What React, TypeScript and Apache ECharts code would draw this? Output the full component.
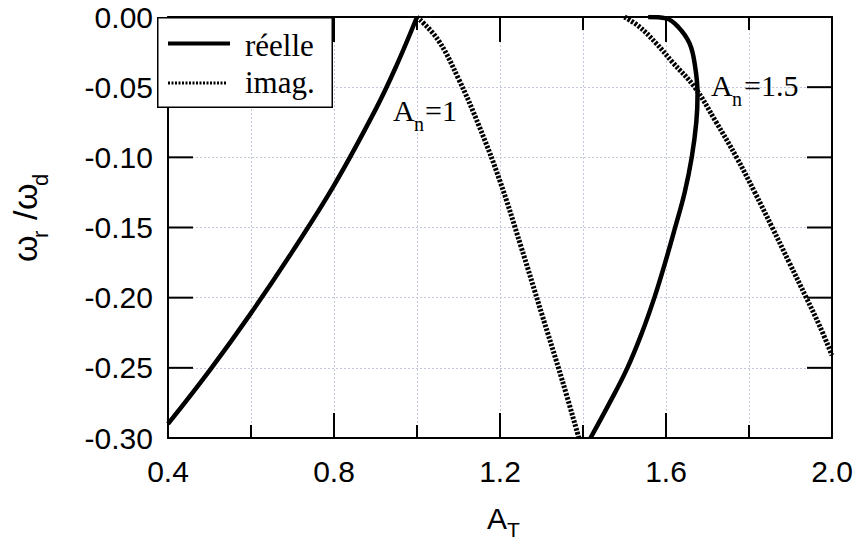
import React, { useEffect, useRef } from 'react';
import * as echarts from 'echarts';

// A_T values vs omega_r/omega_d
const reelleAn1: number[][] = [
  [0.4, -0.29], [0.5, -0.252], [0.6, -0.211], [0.7, -0.167], [0.8, -0.12],
  [0.9, -0.066], [0.95, -0.035], [1.0, 0.0],
];
const imagAn1: number[][] = [
  [1.0, 0.0], [1.05, -0.016], [1.1, -0.044], [1.15, -0.078], [1.2, -0.117],
  [1.25, -0.163], [1.3, -0.211], [1.35, -0.259], [1.39, -0.3],
];
const reelleAn15: number[][] = [
  [1.557, 0.0], [1.6, -0.001], [1.629, -0.007], [1.657, -0.019], [1.67, -0.035],
  [1.676, -0.055], [1.673, -0.075], [1.662, -0.1], [1.645, -0.125], [1.622, -0.15],
  [1.598, -0.175], [1.572, -0.2], [1.542, -0.225], [1.507, -0.25], [1.464, -0.275],
  [1.418, -0.3],
];
const imagAn15: number[][] = [
  [1.5, 0.0], [1.536, -0.007], [1.577, -0.019], [1.615, -0.032], [1.669, -0.05],
  [1.721, -0.075], [1.77, -0.1], [1.814, -0.125], [1.856, -0.15], [1.897, -0.175],
  [1.938, -0.2], [1.97, -0.22], [2.0, -0.241],
];
const legendNames = ['réelle', 'imag.'];
const xMajorTicks = [0.4, 0.8, 1.2, 1.6, 2.0];
const xMinorTicks = [0.6, 1.0, 1.4, 1.8];
const yTicks = [-0.3, -0.25, -0.2, -0.15, -0.1, -0.05, 0];
const X_MIN = 0.4, X_MAX = 2.0, X_STEP = 0.4;
const Y_MIN = -0.3, Y_MAX = 0, Y_STEP = 0.05;

const sans = '"Liberation Sans", Arial, Helvetica, sans-serif';
const serif = '"Liberation Serif", "Times New Roman", Times, serif';

const gridLine = () => ({ show: true, lineStyle: { color: '#c3c7da', width: 1, type: [2, 2] } });
const axisLine = () => ({ show: true, onZero: false, lineStyle: { color: '#000000', width: 2 } });

const txt = (text: string, x: number, y: number, font: string) => ({
  type: 'text', x, y, z: 100,
  style: { text, font, fill: '#000', textAlign: 'left', textVerticalAlign: 'middle', align: 'left', verticalAlign: 'middle' },
});

const seg = (x1: number, y1: number, x2: number, y2: number) => ({
  type: 'line', z: 80, silent: true,
  shape: { x1, y1, x2, y2 },
  style: { stroke: '#000', lineWidth: 2 },
});

const boxStyle: any = { position: 'fixed', left: 0, top: 0, width: 857, height: 540 };

export default function App() {
  const ref = useRef<HTMLDivElement>(null);
  const overlayRef = useRef<HTMLDivElement>(null);
  useEffect(() => {
    if (!ref.current || !overlayRef.current) return;
    const chart = echarts.init(ref.current, null, { renderer: 'svg' });
    const overlay = echarts.init(overlayRef.current, null, { renderer: 'svg' });
    const solid = { color: '#000', width: 4.5 };
    const dotted = { color: '#000', width: 5, type: [2.5, 1.5] };

    chart.setOption({
      animation: false,
      backgroundColor: '#fff',
      grid: { left: 168, right: 25, top: 17, bottom: 102, containLabel: false },
      xAxis: [
        {
          type: 'value', min: X_MIN, max: X_MAX, interval: X_STEP, position: 'bottom',
          axisLine: axisLine(), axisTick: { show: false }, minorTick: { show: false, splitNumber: 2 },
          axisLabel: { show: true, margin: 18, fontSize: 30, fontFamily: sans, color: '#000', formatter: (v: number) => v.toFixed(1) },
          splitLine: gridLine(), minorSplitLine: gridLine(),
        },
        {
          type: 'value', min: X_MIN, max: X_MAX, interval: X_STEP, position: 'top',
          axisLine: axisLine(), axisTick: { show: false },
          axisLabel: { show: false }, splitLine: { show: false }, minorSplitLine: { show: false },
        },
      ],
      yAxis: [
        {
          type: 'value', min: Y_MIN, max: Y_MAX, interval: Y_STEP, position: 'left',
          axisLine: axisLine(), axisTick: { show: false },
          axisLabel: {
            show: true, margin: 15, fontSize: 30, fontFamily: sans, color: '#000',
            formatter: (v: number) => (Math.abs(v) < 1e-9 ? '0.00' : v.toFixed(2)),
          },
          splitLine: gridLine(),
        },
        {
          type: 'value', min: Y_MIN, max: Y_MAX, interval: Y_STEP, position: 'right',
          axisLine: axisLine(), axisTick: { show: false }, axisLabel: { show: false }, splitLine: { show: false },
        },
      ],
      series: [
        { type: 'line', data: reelleAn1, symbol: 'none', smooth: 0.4, lineStyle: solid, z: 5 },
        { type: 'line', data: imagAn1, symbol: 'none', smooth: 0.4, lineStyle: dotted, z: 5 },
        { type: 'line', data: reelleAn15, symbol: 'none', smooth: 0.4, lineStyle: solid, z: 5 },
        { type: 'line', data: imagAn15, symbol: 'none', smooth: 0.4, lineStyle: dotted, z: 5 },
      ],
    });

    // tick marks placed through the chart's own axis scales
    const px = (x: number, y: number): number[] | null => {
      const p: any = chart.convertToPixel({ xAxisIndex: 0, yAxisIndex: 0 } as any, [x, y]);
      return Array.isArray(p) && isFinite(p[0]) && isFinite(p[1]) ? p : null;
    };
    const ticks: any[] = [];
    const addX = (vals: number[], len: number) => {
      vals.forEach((v) => {
        const b = px(v, Y_MIN);
        const t = px(v, Y_MAX);
        if (b) ticks.push(seg(b[0], b[1], b[0], b[1] - len));
        if (t) ticks.push(seg(t[0], t[1], t[0], t[1] + len));
      });
    };
    addX(xMajorTicks, 25);
    addX(xMinorTicks, 13);
    yTicks.forEach((v) => {
      const l = px(X_MIN, v);
      const r = px(X_MAX, v);
      if (l) ticks.push(seg(l[0], l[1], l[0] + 25, l[1]));
      if (r) ticks.push(seg(r[0], r[1], r[0] - 25, r[1]));
    });

    overlay.setOption({
      animation: false,
      backgroundColor: 'transparent',
      graphic: [
        ...ticks,
        // legend box
        {
          type: 'rect', z: 90,
          shape: { x: 157.75, y: 17.75, width: 174.5, height: 89.5 },
          style: { fill: '#fff', stroke: '#000', lineWidth: 1.5 },
        },
        {
          type: 'line', z: 95,
          shape: { x1: 168, y1: 43.5, x2: 230, y2: 43.5 },
          style: { stroke: '#000', lineWidth: 4 },
        },
        {
          type: 'line', z: 95,
          shape: { x1: 168, y1: 83, x2: 226, y2: 83 },
          style: { stroke: '#000', lineWidth: 3, lineDash: [2, 1.5] },
        },
        txt(legendNames[0], 245, 45, `31px ${serif}`),
        txt(legendNames[1], 245, 82, `31px ${serif}`),
        // curve labels
        txt('A', 393, 110.4, `30px ${serif}`),
        txt('n', 414, 123.6, `20px ${serif}`),
        txt('=1', 425, 110.4, `30px ${serif}`),
        txt('A', 711, 85.4, `30px ${serif}`),
        txt('n', 732, 98.6, `20px ${serif}`),
        txt('=1.5', 744, 85.4, `30px ${serif}`),
        // axis titles
        txt('A', 487, 518, `30px ${sans}`),
        txt('T', 507, 529.5, `21px ${sans}`),
        {
          type: 'group', x: 25, y: 262, rotation: Math.PI / 2, z: 100,
          children: [
            txt('ω', 0, 0, `34px ${sans}`),
            txt('r', 24, 15.5, `22px ${sans}`),
            txt('/', 42, 0, `34px ${sans}`),
            txt('ω', 52, 0, `34px ${sans}`),
            txt('d', 76, 15.5, `22px ${sans}`),
          ],
        },
      ],
    });
    return () => {
      overlay.dispose();
      chart.dispose();
    };
  }, []);
  return (
    <div>
      <div ref={ref} style={{ ...boxStyle, background: '#fff' }} />
      <div ref={overlayRef} style={{ ...boxStyle, pointerEvents: 'none', zIndex: 2 }} />
    </div>
  );
}
